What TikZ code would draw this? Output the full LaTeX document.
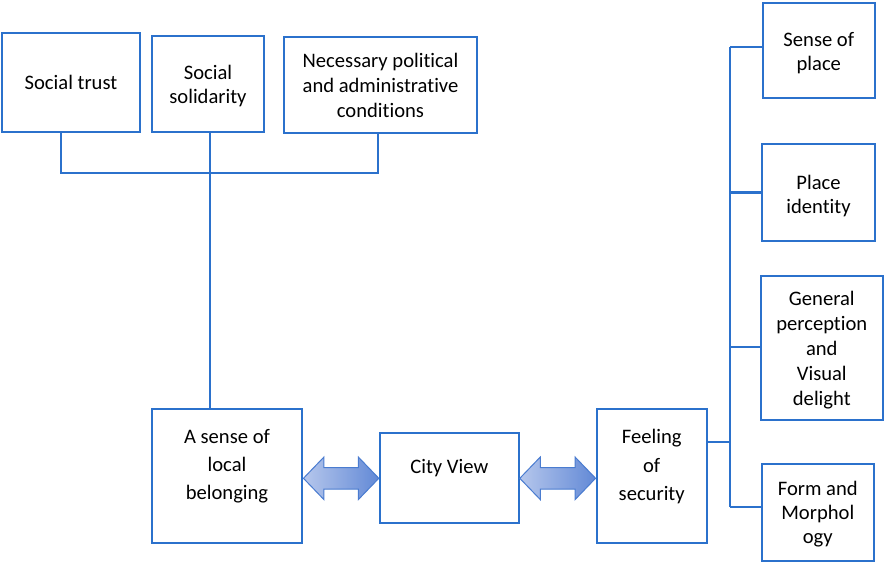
\documentclass[tikz,border=0pt]{standalone}
\usepackage{fontspec}
\setmainfont{Carlito}[Ligatures=NoCommon]
\begin{document}
\begin{tikzpicture}[x=1pt,y=-1pt,
  box/.style={draw=lineblue,line width=2.3pt,fill=white,inner sep=0pt},
  txt/.style={align=center,font=\fontsize{20.6}{24}\selectfont,text=black,inner sep=0pt},
  txtwide/.style={txt,font=\fontsize{20.6}{28.5}\selectfont},
  txtmid/.style={txt,font=\fontsize{20.6}{25}\selectfont},
  conn/.style={draw=lineblue,line width=2.3pt},
  dblarrow/.style={draw=arrowedge,line width=1pt,left color=arrowlight,right color=arrowdark}]
\definecolor{lineblue}{RGB}{43,113,204}
\definecolor{arrowedge}{RGB}{74,124,208}
\definecolor{arrowlight}{RGB}{182,199,236}
\definecolor{arrowdark}{RGB}{98,137,214}
\useasboundingbox (0,0) rectangle (886,563);
\fill[white] (0,0) rectangle (886,563);

% top row
\node[box,minimum width=138,minimum height=99,label={[txt]center:Social trust}] (st) at (71,82.5) {};
\node[box,minimum width=112,minimum height=96,label={[txt,yshift=-2.2pt]center:Social\\solidarity}] (ss) at (208,84) {};
\node[box,minimum width=193,minimum height=96,label={[txtmid]center:Necessary political\\and administrative\\conditions}] (np) at (380.5,85) {};

% bottom row
\node[box,minimum width=150.6,minimum height=133.7,label={[txtwide,yshift=9.6pt]center:A sense of\\local\\belonging}] (as) at (227,475.8) {};
\node[box,minimum width=138.7,minimum height=90.6,label={[txt,yshift=9.5pt]center:City View}] (cv) at (449.3,478) {};
\node[box,minimum width=110,minimum height=133.7,label={[txtwide,yshift=9.3pt]center:Feeling\\of\\security}] (fs) at (651.7,475.8) {};

% right column
\node[box,minimum width=112.3,minimum height=95,label={[txt,yshift=-2.6pt]center:Sense of\\place}] (sp) at (818.8,50.8) {};
\node[box,minimum width=113,minimum height=96.7,label={[txt,yshift=-3.4pt]center:Place\\identity}] (pi) at (818.5,192.3) {};
\node[box,minimum width=122.3,minimum height=144,label={[txtmid,yshift=-2.2pt]center:General\\perception\\and\\Visual\\delight}] (gp) at (821.8,348) {};
\node[box,minimum width=112.3,minimum height=96.7,label={[txt,yshift=-1.7pt]center:Form and\\Morphol\\ogy}] (fm) at (817.8,512.3) {};

% top bracket
\coordinate (bl) at (61,173);
\coordinate (bm) at (210,173);
\coordinate (br) at (378,173);
\draw[conn] (bl |- st.south) -- (bl) -- (br) -- (br |- np.south);
\draw[conn] (bm |- ss.south) -- (bm |- as.north);

% right trunk
\coordinate (jsp) at (730,46.7);
\coordinate (jpi) at (730,192.5);
\coordinate (jgp) at (730,347);
\coordinate (jfm) at (730,506.7);
\coordinate (jfs) at (730,442.3);
\draw[conn] (jsp) -- (jfm);
\draw[conn] (jsp) -- (sp.west |- jsp);
\draw[conn] (jpi) -- (pi.west |- jpi);
\draw[conn] (jgp) -- (gp.west |- jgp);
\draw[conn] (jfm) -- (fm.west |- jfm);
\draw[conn] (fs.east |- jfs) -- (jfs);

% double arrows
\coordinate (l1) at (as.east |- 0,478.3);
\coordinate (r1) at (cv.west |- 0,478.3);
\path[dblarrow] (l1) -- ++(20.5pt,21.3pt) -- ++(0,-10.6pt) -- ([shift={(-20.5pt,10.7pt)}]r1) -- ++(0,10.6pt) -- (r1)
  -- ++(-20.5pt,-21.3pt) -- ++(0,10.6pt) -- ([shift={(20.5pt,-10.7pt)}]l1) -- ++(0,-10.6pt) -- cycle;
\coordinate (l2) at (cv.east |- 0,478.3);
\coordinate (r2) at (fs.west |- 0,478.3);
\path[dblarrow] (l2) -- ++(20.5pt,21.3pt) -- ++(0,-10.6pt) -- ([shift={(-20.5pt,10.7pt)}]r2) -- ++(0,10.6pt) -- (r2)
  -- ++(-20.5pt,-21.3pt) -- ++(0,10.6pt) -- ([shift={(20.5pt,-10.7pt)}]l2) -- ++(0,-10.6pt) -- cycle;
\end{tikzpicture}
\end{document}
